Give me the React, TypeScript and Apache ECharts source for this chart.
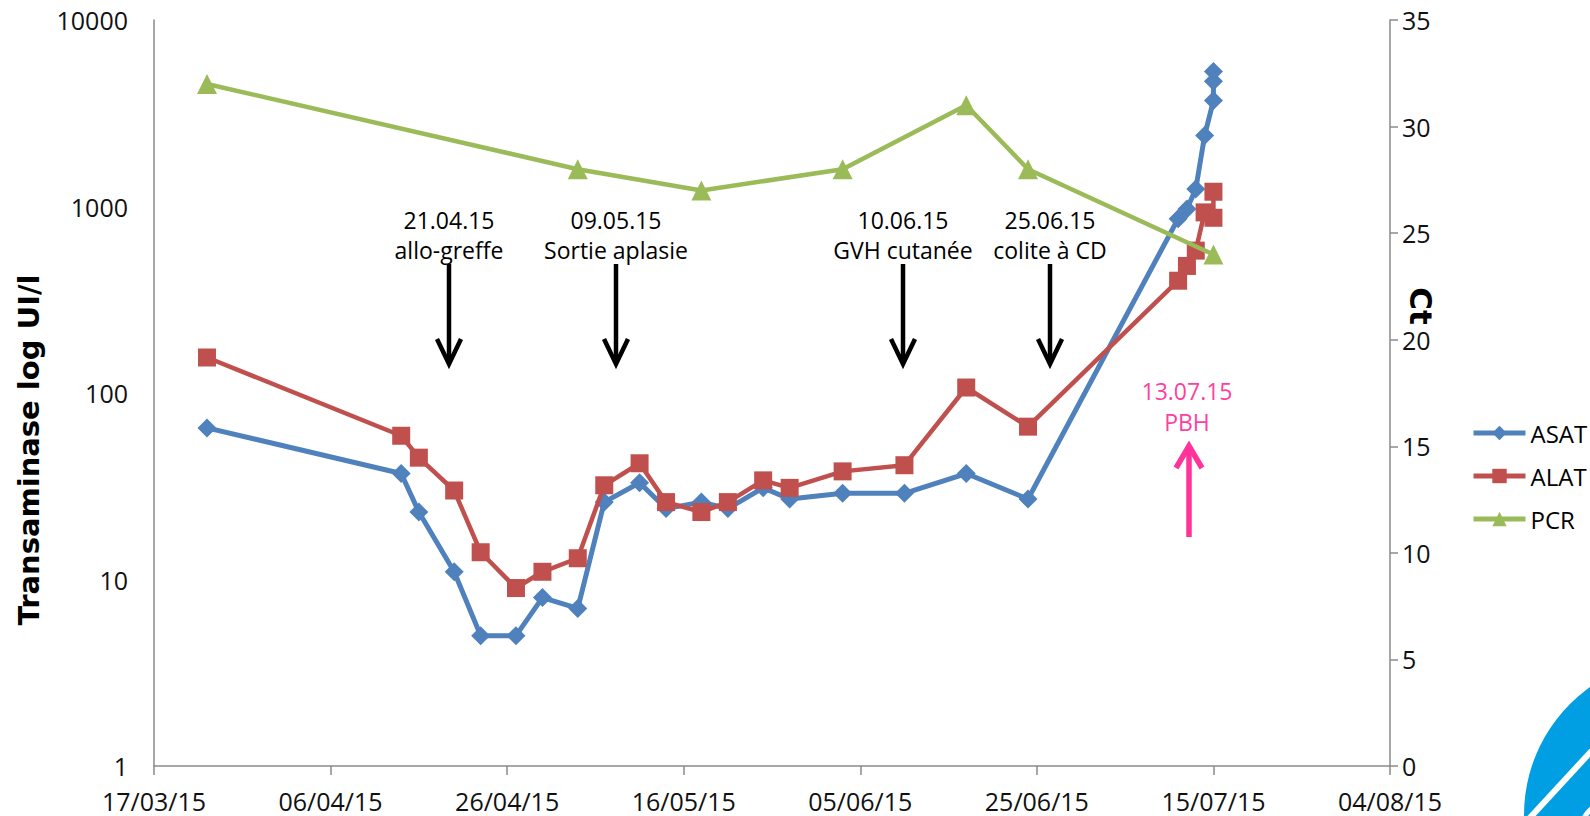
import React, { useEffect, useRef } from "react";
import * as echarts from "echarts";

// ---------- data ----------
const START_DATE = "2015-03-17";
const X_MAX_DAYS = 140;
const X_STEP_DAYS = 20;

const asatDates = [
  "2015-03-23", "2015-04-14", "2015-04-16", "2015-04-20", "2015-04-23", "2015-04-27", "2015-04-30",
  "2015-05-04", "2015-05-07", "2015-05-11", "2015-05-14", "2015-05-18", "2015-05-21", "2015-05-25",
  "2015-05-28", "2015-06-03", "2015-06-10", "2015-06-17", "2015-06-24", "2015-07-11", "2015-07-12",
  "2015-07-13", "2015-07-14", "2015-07-15", "2015-07-15", "2015-07-15",
];
const asatValues = [65, 37, 23, 11, 5, 5, 8, 7, 26, 33, 24, 26, 24, 31, 27, 29, 29, 37, 27, 860, 970, 1240, 2400, 3700, 4700, 5300];

const alatDates = [
  "2015-03-23", "2015-04-14", "2015-04-16", "2015-04-20", "2015-04-23", "2015-04-27", "2015-04-30",
  "2015-05-04", "2015-05-07", "2015-05-11", "2015-05-14", "2015-05-18", "2015-05-21", "2015-05-25",
  "2015-05-28", "2015-06-03", "2015-06-10", "2015-06-17", "2015-06-24", "2015-07-11", "2015-07-12",
  "2015-07-13", "2015-07-14", "2015-07-15", "2015-07-15",
];
const alatValues = [155, 59, 45, 30, 14, 9, 11, 13, 32, 42, 26, 23, 26, 34, 31, 38, 41, 107, 66, 400, 480, 580, 930, 870, 1200];

const pcrDates = ["2015-03-23", "2015-05-04", "2015-05-18", "2015-06-03", "2015-06-17", "2015-06-24", "2015-07-15"];
const pcrValues = [32, 28, 27, 28, 31, 28, 24];

const leftTicks = [1, 10, 100, 1000, 10000];
const rightMin = 0;
const rightMax = 35;
const rightStep = 5;

const eventDates = ["21.04.15", "09.05.15", "10.06.15", "25.06.15"];
const eventTexts = ["allo-greffe", "Sortie aplasie", "GVH cutanée", "colite à CD"];
const biopsyDate = "13.07.15";
const biopsyText = "PBH";

const seriesNames = ["ASAT", "ALAT", "PCR"];
const leftTitle = "Transaminase log UI/l";
const rightTitle = "Ct";

// ---------- helpers ----------
const DAY = 86400000;
const base = Date.parse(START_DATE + "T00:00:00Z");
const toDay = (s: string) => Math.round((Date.parse(s + "T00:00:00Z") - base) / DAY);
const fmtDay = (d: number) => {
  const dt = new Date(base + Math.round(d) * DAY);
  const dd = String(dt.getUTCDate()).padStart(2, "0");
  const mm = String(dt.getUTCMonth() + 1).padStart(2, "0");
  const yy = String(dt.getUTCFullYear()).slice(2);
  return `${dd}/${mm}/${yy}`;
};
const pair = (dates: string[], vals: number[]) => dates.map((d, i) => [toDay(d), vals[i]]);

// ---------- layout (pixels) ----------
const EVENT_X = [449, 616, 903, 1050];
const FONT = '"Open Sans", "Noto Sans", sans-serif';

export default function App() {
  const ref = useRef<HTMLDivElement>(null);

  useEffect(() => {
    if (!ref.current) return;
    const chart = echarts.init(ref.current, undefined, { renderer: "svg" });

    const graphics: any[] = [];
    EVENT_X.forEach((x, i) => {
      graphics.push({
        type: "text", x, y: 220,
        style: { text: eventDates[i], font: `23px ${FONT}`, fill: "#000", align: "center", verticalAlign: "middle" },
      });
      graphics.push({
        type: "text", x, y: 250,
        style: { text: eventTexts[i], font: `23px ${FONT}`, fill: "#000", align: "center", verticalAlign: "middle" },
      });
      graphics.push({
        type: "line", shape: { x1: x, y1: 264, x2: x, y2: 362 },
        style: { stroke: "#000", lineWidth: 4.5 },
      });
      graphics.push({
        type: "polyline", shape: { points: [[x - 12, 339], [x, 364], [x + 12, 339]] },
        style: { stroke: "#000", lineWidth: 4.5, fill: null },
      });
    });
    // biopsy annotation
    graphics.push({
      type: "text", x: 1187, y: 391,
      style: { text: biopsyDate, font: `23px ${FONT}`, fill: "#ff3fa0", align: "center", verticalAlign: "middle" },
    });
    graphics.push({
      type: "text", x: 1187, y: 422,
      style: { text: biopsyText, font: `23px ${FONT}`, fill: "#ff3fa0", align: "center", verticalAlign: "middle" },
    });
    graphics.push({
      type: "line", shape: { x1: 1189, y1: 447, x2: 1189, y2: 537 },
      style: { stroke: "#ff3399", lineWidth: 5.5 },
    });
    graphics.push({
      type: "polyline", shape: { points: [[1176, 468], [1189, 446], [1202, 468]] },
      style: { stroke: "#ff3399", lineWidth: 5.5, fill: null },
    });
    // axis titles
    graphics.push({
      type: "text", x: 29, y: 450, rotation: Math.PI / 2,
      style: { text: leftTitle, font: 'bold 29px "DejaVu Sans", sans-serif', fill: "#000", align: "center", verticalAlign: "middle" },
    });
    graphics.push({
      type: "text", x: 1421, y: 306, rotation: -Math.PI / 2,
      style: { text: rightTitle, font: 'bold 31px "DejaVu Sans", sans-serif', fill: "#000", align: "center", verticalAlign: "middle" },
    });
    // logo
    graphics.push({ type: "circle", shape: { cx: 1681, cy: 815, r: 157 }, style: { fill: "#009fe3" } });
    graphics.push({
      type: "line", shape: { x1: 1598, y1: 744, x2: 1526, y2: 822 },
      style: { stroke: "#fff", lineWidth: 6 },
    });
    graphics.push({
      type: "arc", shape: { cx: 1606, cy: 828, r: 24, startAngle: Math.PI, endAngle: Math.PI * 1.5 },
      style: { stroke: "#fff", lineWidth: 5, fill: null },
    });

    const axisLine = { show: true, lineStyle: { color: "#8a8a8a", width: 1.5 } };
    const labelStyle = { color: "#111", fontSize: 25, fontFamily: FONT };

    chart.setOption({
      animation: false,
      backgroundColor: "#fff",
      textStyle: { fontFamily: FONT },
      grid: { left: 154, right: 200, top: 20, bottom: 50, containLabel: false, outerBoundsMode: "none" },
      legend: {
        data: seriesNames,
        orient: "vertical",
        left: 1466,
        top: 416,
        itemWidth: 52,
        itemHeight: 18,
        itemGap: 19,
        lineStyle: { width: 5 },
        textStyle: { color: "#000", fontSize: 24, fontFamily: FONT },
      },
      xAxis: {
        type: "value",
        min: 0,
        max: X_MAX_DAYS,
        interval: X_STEP_DAYS,
        axisLine,
        axisTick: { show: true, length: 9, lineStyle: { color: "#8a8a8a", width: 1.5 } },
        splitLine: { show: false },
        axisLabel: { ...labelStyle, margin: 22, formatter: (v: number) => fmtDay(v) },
      },
      yAxis: [
        {
          type: "log",
          logBase: 10,
          min: leftTicks[0],
          max: leftTicks[leftTicks.length - 1],
          axisLine,
          axisTick: { show: false },
          splitLine: { show: false },
          axisLabel: { ...labelStyle, margin: 26, formatter: (v: number) => String(Math.round(v)) },
        },
        {
          type: "value",
          position: "right",
          min: rightMin,
          max: rightMax,
          interval: rightStep,
          axisLine,
          axisTick: { show: true, length: 8, lineStyle: { color: "#8a8a8a", width: 1.5 } },
          splitLine: { show: false },
          axisLabel: { ...labelStyle, margin: 12 },
        },
      ],
      series: [
        {
          name: seriesNames[0],
          type: "line",
          yAxisIndex: 0,
          data: pair(asatDates, asatValues),
          symbol: "diamond",
          symbolSize: 19,
          lineStyle: { color: "#4f81bd", width: 5 },
          itemStyle: { color: "#4f81bd" },
          z: 2,
        },
        {
          name: seriesNames[1],
          type: "line",
          yAxisIndex: 0,
          data: pair(alatDates, alatValues),
          symbol: "rect",
          symbolSize: 18,
          lineStyle: { color: "#c0504d", width: 4.5 },
          itemStyle: { color: "#c0504d" },
          z: 3,
        },
        {
          name: seriesNames[2],
          type: "line",
          yAxisIndex: 1,
          data: pair(pcrDates, pcrValues),
          symbol: "triangle",
          symbolSize: 20,
          lineStyle: { color: "#9bbb59", width: 4.5 },
          itemStyle: { color: "#9bbb59" },
          z: 4,
        },
      ],
      graphic: graphics,
    });

    return () => chart.dispose();
  }, []);

  return (
    <div
      ref={ref}
      style={{ position: "fixed", left: 0, top: 0, width: 1590, height: 816, background: "#fff" }}
    />
  );
}
